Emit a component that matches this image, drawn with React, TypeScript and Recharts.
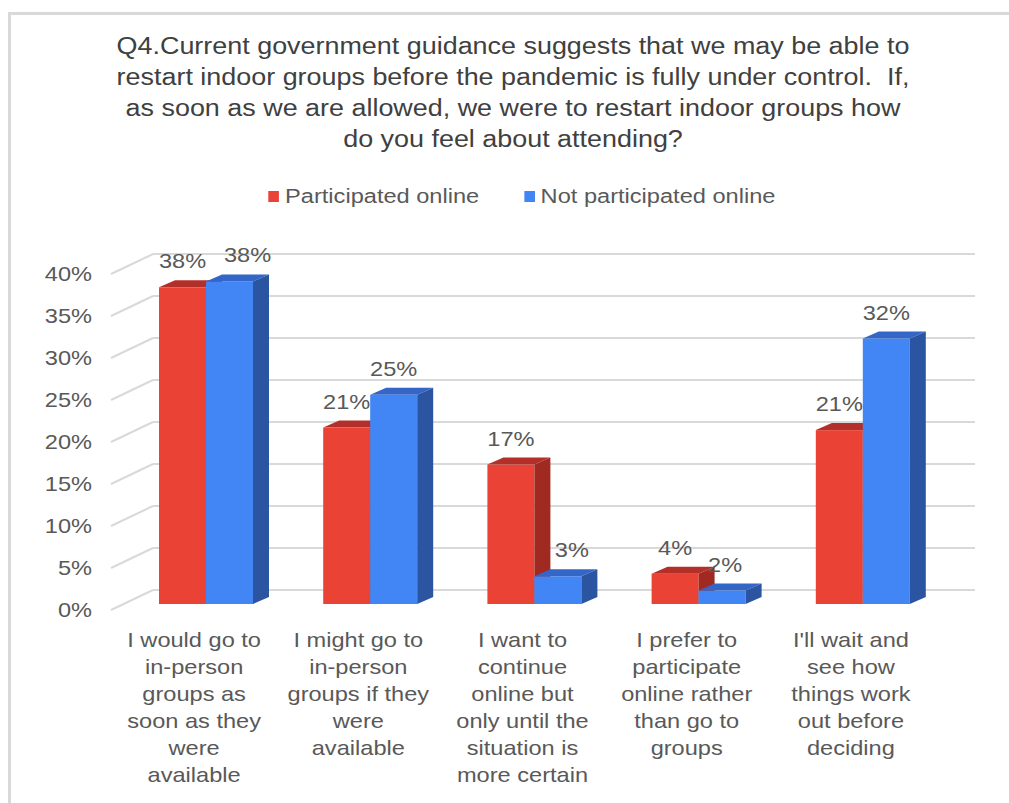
import React from 'react';
import { BarChart, Bar, XAxis, YAxis, CartesianGrid, Legend, LabelList } from 'recharts';

const categories = [
  "I would go to\nin-person\ngroups as\nsoon as they\nwere\navailable",
  "I might go to\nin-person\ngroups if they\nwere\navailable",
  "I want to\ncontinue\nonline but\nonly until the\nsituation is\nmore certain",
  "I prefer to\nparticipate\nonline rather\nthan go to\ngroups",
  "I'll wait and\nsee how\nthings work\nout before\ndeciding",
];
const participated = [37.7, 21, 16.6, 3.6, 20.7];
const notParticipated = [38.4, 24.9, 3.3, 1.6, 31.6];
const seriesNames = ['Participated online', 'Not participated online'];
const yTicks = [0, 5, 10, 15, 20, 25, 30, 35, 40];
const titleLines = [
  'Q4.Current government guidance suggests that we may be able to',
  'restart indoor groups before the pandemic is fully under control.  If,',
  'as soon as we are allowed, we were to restart indoor groups how',
  'do you feel about attending?',
];

const data = categories.map((name, i) => ({
  name,
  participated: participated[i],
  notParticipated: notParticipated[i],
}));

const FONT = 'Arial, "Liberation Sans", sans-serif';
const TEXT = '#595959';
const GRID = '#d9d9d9';
const STRETCH = 1.18; // the original text is drawn a little wide
const BAR_DX = 16;
const BAR_DY = 7;

// text that is stretched horizontally around its anchor point
const WideText = ({ x, y, anchor, children }: any) => (
  <text
    transform={`translate(${x},${y}) scale(${STRETCH},1)`}
    textAnchor={anchor}
    fontSize={20}
    fill={TEXT}
    fontFamily={FONT}
  >
    {children}
  </text>
);

const make3DBar = (front: string, top: string, side: string) => (props: any) => {
  const { x, y, width, height } = props;
  if (height == null || height <= 0) return <g />;
  return (
    <g>
      <rect x={x} y={y} width={width} height={height} fill={front} />
      <polygon
        points={`${x},${y} ${x + BAR_DX},${y - BAR_DY} ${x + width + BAR_DX},${y - BAR_DY} ${x + width},${y}`}
        fill={top}
      />
      <polygon
        points={`${x + width},${y} ${x + width + BAR_DX},${y - BAR_DY} ${x + width + BAR_DX},${y + height - BAR_DY} ${x + width},${y + height}`}
        fill={side}
      />
    </g>
  );
};

const RedBar = make3DBar('#ea4335', '#b3302a', '#a02a22');
const BlueBar = make3DBar('#4285f4', '#3366c6', '#2b55a0');

const gridLine = (props: any) => {
  const y = props.y1;
  return (
    <g key={props.key}>
      <line x1={111} y1={y + 6} x2={153} y2={y - 14} stroke={GRID} strokeWidth={2} />
      <line x1={153} y1={y - 14} x2={975} y2={y - 14} stroke={GRID} strokeWidth={2} />
    </g>
  );
};

const YTick = (props: any) => {
  const { y, payload } = props;
  return <WideText x={92} y={y + 13} anchor="end">{payload.value}%</WideText>;
};

const XTick = (props: any) => {
  const { x, y, payload } = props;
  const lines = String(payload.value).split('\n');
  return (
    <g>
      {lines.map((line, i) => (
        <WideText key={i} x={x - 12} y={y + 35 + i * 27} anchor="middle">
          {line}
        </WideText>
      ))}
    </g>
  );
};

// labels nudged sideways where Excel moved them off the neighbouring bar
const makeLabel = (nudge: Record<number, number>) => (props: any) => {
  const { x, y, width, value, index } = props;
  return (
    <WideText x={x + width / 2 + (nudge[index] || 0)} y={y - 19} anchor="middle">
      {Math.round(value)}%
    </WideText>
  );
};

const LegendContent = (props: any) => {
  const items = [...(props.payload || [])].sort(
    (a: any, b: any) => seriesNames.indexOf(a.value) - seriesNames.indexOf(b.value)
  );
  return (
    <div
      style={{
        display: 'flex',
        justifyContent: 'center',
        gap: 38,
        fontFamily: FONT,
        fontSize: 20,
        color: TEXT,
        transform: `scaleX(${STRETCH})`,
        transformOrigin: '522px 50%',
      }}
    >
      {items.map((entry: any) => (
        <div key={entry.value} style={{ display: 'flex', alignItems: 'center' }}>
          <span style={{ display: 'inline-block', width: 9, height: 11, background: entry.color, marginRight: 5 }} />
          <span>{entry.value}</span>
        </div>
      ))}
    </div>
  );
};

export default function App() {
  return (
    <div style={{ position: 'absolute', left: 0, top: 0, width: 1009, height: 803, background: '#fff', overflow: 'hidden' }}>
      <div
        style={{
          position: 'absolute',
          left: 8,
          top: 12,
          width: 1010,
          height: 800,
          borderTop: `3px solid ${GRID}`,
          borderLeft: `3px solid ${GRID}`,
        }}
      />
      <div
        style={{
          position: 'absolute',
          left: 0,
          top: 31,
          width: 1026,
          textAlign: 'center',
          fontFamily: FONT,
          fontSize: 23,
          lineHeight: '31px',
          color: '#404040',
          transform: 'scaleX(1.17)',
          transformOrigin: '513px 50%',
        }}
      >
        {titleLines.map((l, i) => (
          <div key={i} style={{ whiteSpace: 'pre' }}>{l}</div>
        ))}
      </div>
      <BarChart
        width={1009}
        height={803}
        data={data}
        margin={{ top: 268, right: 64, bottom: 29, left: 64 }}
        barGap={0}
        barSize={47}
      >
        <CartesianGrid vertical={false} horizontal={gridLine} />
        <XAxis dataKey="name" axisLine={false} tickLine={false} height={170} interval={0} tick={<XTick />} />
        <YAxis
          width={60}
          domain={[0, 40]}
          ticks={yTicks}
          axisLine={false}
          tickLine={false}
          tick={<YTick />}
        />
        <Legend
          verticalAlign="middle"
          layout="horizontal"
          content={<LegendContent />}
          wrapperStyle={{ position: 'absolute', top: 185, left: 0, width: 1044 }}
        />
        <Bar dataKey="participated" name={seriesNames[0]} fill="#ea4335" shape={RedBar} isAnimationActive={false}>
          <LabelList dataKey="participated" content={makeLabel({})} />
        </Bar>
        <Bar dataKey="notParticipated" name={seriesNames[1]} fill="#4285f4" shape={BlueBar} isAnimationActive={false}>
          <LabelList dataKey="notParticipated" content={makeLabel({ 0: 18, 2: 14, 3: 3 })} />
        </Bar>
      </BarChart>
    </div>
  );
}
